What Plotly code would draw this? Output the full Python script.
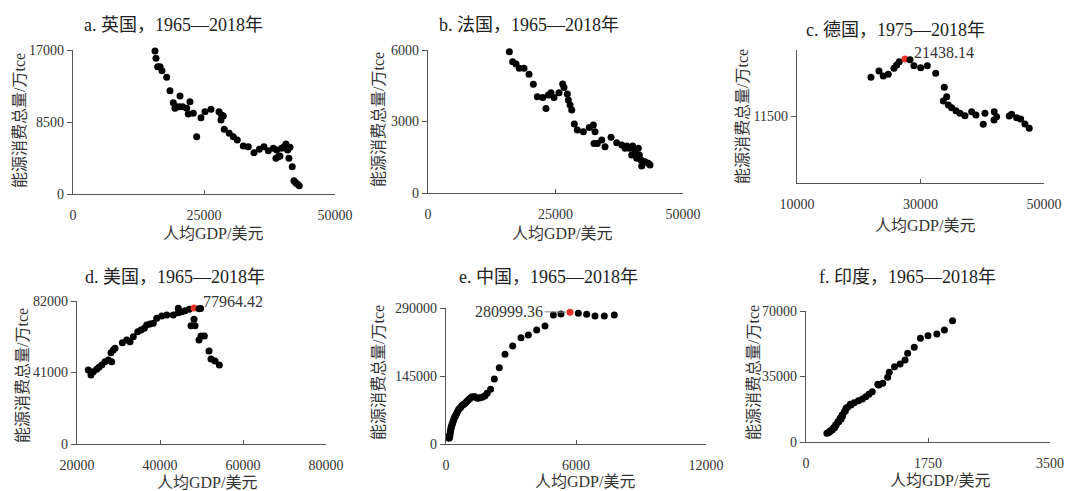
import plotly.graph_objects as go

W, H = 1067, 491
FONT = "Liberation Serif, Times New Roman, Noto Sans CJK SC, serif"

# ---------------- data ----------------
uk_gdp = [15646, 15837, 16160, 16600, 16980, 17880, 18510, 19140, 19650, 19460, 20420, 20290, 20930,
          21700, 22320, 22000, 22960, 23600, 24420, 25190, 26330, 27860, 28360, 28680, 28240, 28870,
          29820, 30590, 31350, 32500, 33450, 34540, 35560, 36440, 37270, 38230, 38860, 38730, 39180,
          39500, 39820, 40260, 40640, 40960, 41400, 41210, 41840, 42160, 42480, 42800, 43180]
uk_energy = [16880, 16020, 15030, 15030, 14560, 13770, 12200, 10780, 10310, 10110, 11570, 10310, 10310,
             10110, 10900, 9440, 9520, 6770, 9010, 9720, 10000, 9720, 9330, 9210, 8740, 7640,
             7160, 6770, 6380, 5670, 5590, 4880, 5280, 5590, 5120, 5400, 5200, 4210, 4410,
             4490, 5400, 5590, 5900, 5200, 5510, 4210, 3220, 1570, 1330, 1180, 980]

fr_gdp = [15950, 16600, 17260, 17900, 18830, 19810, 20650, 21430, 22490, 23140, 23600, 24120, 24710,
          25690, 26410, 26670, 27320, 27520, 27850, 28180, 28690, 29280, 30460, 31630, 32420, 32750,
          32550, 33200, 34060, 34710, 35890, 37000, 37980, 38630, 38960, 39480, 40140, 39940, 40590,
          41240, 41440, 40920, 41770, 41900, 42550, 43530, 43200]
fr_energy = [5930, 5510, 5410, 5230, 5230, 4980, 4560, 4040, 4010, 3550, 4110, 4210, 4010,
             4210, 4570, 4430, 4150, 3900, 3690, 3480, 2890, 2640, 2570, 2750, 2850, 2570,
             2080, 2080, 2220, 1940, 2340, 2110, 2010, 1880, 1970, 1880, 1970, 1590, 1730,
             1880, 1590, 1460, 1380, 1130, 1310, 1170, 1250]

de_gdp = [21980, 23280, 23970, 24780, 25700, 26140, 26560, 27490, 28300, 28940, 30030, 31100, 32460,
          33850, 34240, 33690, 34500, 35050, 35740, 36390, 37200, 38280, 38980, 40160, 40440, 41900,
          41940, 42330, 44370, 44760, 45570, 46220, 46910, 47610]
de_energy = [18270, 19370, 18500, 18790, 19830, 20400, 20970, 21438.14, 21320, 20290, 19940, 20290, 18970,
             16550, 14920, 14180, 13490, 13020, 12500, 12050, 11640, 12330, 11760, 10150, 12050, 10890,
             12330, 11460, 11580, 11870, 11290, 11070, 10200, 9460]

us_gdp = [22720, 23370, 23930, 24750, 25300, 25950, 26750, 27550, 28360, 28190, 28750, 29160, 30920,
          31980, 32770, 33570, 34630, 35420, 36220, 36800, 37590, 38390, 39210, 40410, 41620, 43210,
          44410, 44410, 45230, 46030, 47060, 48200, 49400, 49810, 48200, 47470, 48440, 49400, 49880,
          50680, 51810, 52290, 53260, 54300]
us_energy = [42430, 39560, 41460, 42830, 43980, 45300, 47190, 48170, 47190, 52350, 53900, 54870, 58090,
             59640, 58660, 61530, 64400, 65370, 66340, 68240, 68810, 69200, 72080, 73400, 73970, 73970,
             75290, 77810, 75860, 76430, 77240, 77964.42, 77500, 77700, 71500, 67830, 67830, 59640, 61930,
             61930, 53330, 48740, 47590, 45300]

cn_gdp = [140, 150, 160, 170, 180, 190, 200, 215, 230, 250, 270, 290, 320, 350, 380, 420, 460, 500,
          540, 590, 650, 700, 760, 830, 900, 970, 1030, 1100, 1180, 1260, 1340, 1420, 1500, 1600,
          1700, 1800, 1900, 2060, 2229, 2460, 2723, 3078, 3461, 3799, 4186, 4569, 4954, 5307, 5723,
          6106, 6493, 6877, 7306, 7767]
cn_energy = [12000, 14000, 17000, 15500, 19000, 22000, 26000, 30000, 34000, 37000, 40000, 43000, 47000,
             51000, 55000, 59000, 62000, 66000, 70000, 74000, 77000, 80000, 83000, 85000, 88000, 91000,
             94000, 97000, 100000, 101000, 100500, 98000, 97500, 99000, 100000, 103000, 108000, 117000,
             138600, 162700, 191200, 208900, 226700, 232400, 243000, 251600, 275000, 277200, 280999.36,
             279000, 276500, 272900, 272900, 275000]

in_gdp = [300, 320, 339, 350, 376, 395, 409, 423, 433, 456, 470, 490, 504, 518, 526, 550, 564, 574,
          597, 635, 645, 691, 752, 808, 856, 903, 950, 1030, 1044, 1101, 1171, 1195, 1270, 1350,
          1421, 1458, 1552, 1641, 1750, 1877, 1985, 2102]
in_energy = [4650, 4970, 5500, 6040, 6410, 7640, 7640, 9080, 9080, 10850, 10850, 12670, 12290, 14430,
             13890, 16190, 16570, 18010, 18540, 20150, 19770, 21000, 22070, 22980, 24210, 25490, 26880,
             30830, 30460, 31370, 34570, 37250, 40240, 41680, 43820, 47400, 50610, 55420, 56800, 57710,
             59850, 64820]

titles = ["a. 英国，1965—2018年", "b. 法国，1965—2018年", "c. 德国，1975—2018年",
          "d. 美国，1965—2018年", "e. 中国，1965—2018年", "f. 印度，1965—2018年"]
x_label = "人均GDP/美元"
y_label = "能源消费总量/万tce"

x_ticks = [[0, 25000, 50000], [0, 25000, 50000], [10000, 30000, 50000],
           [20000, 40000, 60000, 80000], [0, 6000, 12000], [0, 1750, 3500]]
y_ticks = [[0, 8500, 17000], [0, 3000, 6000], [11500],
           [0, 41000, 82000], [0, 145000, 290000], [0, 35000, 70000]]
x_ranges = [[0, 50000], [0, 50000], [10000, 50000], [20000, 80000], [0, 12000], [0, 3500]]
y_ranges = [[0, 17000], [0, 6000], [0, 23000], [0, 82000], [0, 290000], [0, 70000]]

series = [(uk_gdp, uk_energy), (fr_gdp, fr_energy), (de_gdp, de_energy),
          (us_gdp, us_energy), (cn_gdp, cn_energy), (in_gdp, in_energy)]
peak_panels = {2: "21438.14", 3: "77964.42", 4: "280999.36"}

# ---------------- layout (pixel boxes) ----------------
boxes = [(73, 335, 50, 194), (428, 683, 50, 193), (797, 1044, 50, 183),
         (77, 326, 301, 444), (446, 706, 308, 444), (806, 1050, 311, 442)]
title_pos = [(173, 25), (529, 25), (895, 30), (175, 277), (548, 277), (907, 277)]
xlab_pos = [(213, 233), (562, 233), (925, 225), (207, 482), (585, 481), (940, 480)]
ylab_pos = [(19, 121), (378, 120), (742, 117), (22, 376), (378, 373), (753, 373)]

fig = go.Figure()
layout = dict(template="none", width=W, height=H,
              margin=dict(l=0, r=0, t=0, b=0, pad=0, autoexpand=False),
              paper_bgcolor="white", plot_bgcolor="white", showlegend=False,
              font=dict(family=FONT, color="#333", size=14))
annotations = []

for i, (xs, ys) in enumerate(series):
    n = "" if i == 0 else str(i + 1)
    xa, ya = "x" + n, "y" + n
    colors = ["black"] * len(xs)
    if i in peak_panels:
        k = ys.index(max(ys))
        colors[k] = "#e8322a"
    fig.add_trace(go.Scatter(x=xs, y=ys, mode="markers", xaxis=xa, yaxis=ya,
                             marker=dict(size=7, color=colors, line=dict(width=0)),
                             cliponaxis=False, hoverinfo="x+y"))
    x0, x1, y0, y1 = boxes[i]
    common = dict(showline=True, linecolor="#555", linewidth=1.2, showgrid=False,
                  zeroline=False, tickcolor="#555", tickwidth=1,
                  tickfont=dict(size=14, color="#333"), fixedrange=True, automargin=False,
                  ticklabeloverflow="allow")
    layout["xaxis" + n] = dict(common, domain=[x0 / W, x1 / W], anchor=ya,
                               range=x_ranges[i], tickvals=x_ticks[i],
                               ticktext=[str(v) for v in x_ticks[i]], ticks="inside",
                               ticklen=4, ticklabelstandoff=8)
    layout["yaxis" + n] = dict(common, domain=[1 - y1 / H, 1 - y0 / H], anchor=xa,
                               range=y_ranges[i], tickvals=y_ticks[i],
                               ticktext=[str(v) for v in y_ticks[i]], ticks="outside",
                               ticklen=5)
    tx, ty = title_pos[i]
    annotations.append(dict(text=titles[i], x=tx / W, y=1 - ty / H, xref="paper", yref="paper",
                            showarrow=False, xanchor="center", yanchor="middle",
                            font=dict(size=18, color="#222")))
    lx, ly = xlab_pos[i]
    annotations.append(dict(text=x_label, x=lx / W, y=1 - ly / H, xref="paper", yref="paper",
                            showarrow=False, xanchor="center", yanchor="middle",
                            font=dict(size=16, color="#333")))
    vx, vy = ylab_pos[i]
    annotations.append(dict(text=y_label, x=vx / W, y=1 - vy / H, xref="paper", yref="paper",
                            showarrow=False, xanchor="center", yanchor="middle", textangle=-90,
                            font=dict(size=16, color="#333")))
    if i in peak_panels:
        k = ys.index(max(ys))
        if i == 4:
            annotations.append(dict(text=peak_panels[i], x=xs[k], y=ys[k], xref=xa, yref=ya,
                                    showarrow=True, arrowhead=0, arrowcolor="#888", arrowwidth=1,
                                    ax=-61, ay=-1, standoff=4,
                                    font=dict(size=16, color="#333")))
        else:
            annotations.append(dict(text=peak_panels[i], x=xs[k], y=ys[k], xref=xa, yref=ya,
                                    showarrow=False, xanchor="left", yanchor="middle",
                                    xshift=7, yshift=7, font=dict(size=16, color="#333")))

layout["annotations"] = annotations
fig.update_layout(**layout)
fig.write_html("out.html", config={"displayModeBar": False},
               post_script="document.body.style.margin='0';document.body.style.overflow='hidden';")
